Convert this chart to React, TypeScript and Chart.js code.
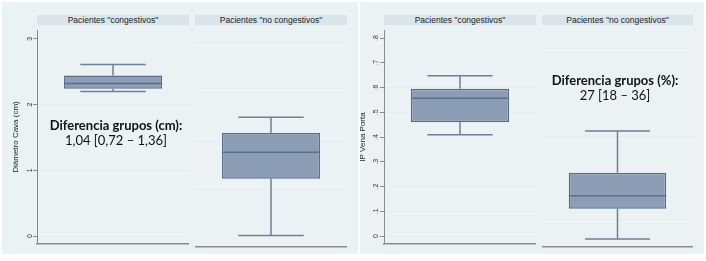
import React, { useEffect, useRef } from "react";
import { Chart, registerables } from "chart.js";

Chart.register(...registerables);

// ---- data ----
const groups = ['Pacientes "congestivos"', 'Pacientes "no congestivos"'];

// Diámetro Cava (cm): [congestivos, no congestivos]
const cavaMin = [2.2, 0.05];
const cavaQ1 = [2.24, 0.88];
const cavaMedian = [2.32, 1.27];
const cavaQ3 = [2.44, 1.55];
const cavaMax = [2.61, 1.78];
const cavaTicks = [0, 1, 2, 3];
const cavaTickLabels = ["0", "1", "2", "3"];
const cavaGridNoCong = [0.72, 1.43, 2.15, 2.87];
const cavaTitle = "Diámetro Cava (cm)";
const cavaNote = ["Diferencia grupos (cm):", "1,04 [0,72 – 1,36]"];

// IP Vena Porta: [congestivos, no congestivos]
const portaMin = [0.41, 0.0];
const portaQ1 = [0.46, 0.118];
const portaMedian = [0.557, 0.168];
const portaQ3 = [0.595, 0.258];
const portaMax = [0.648, 0.42];
const portaTicks = [0, 0.1, 0.2, 0.3, 0.4, 0.5, 0.6, 0.7, 0.8];
const portaTickLabels = ["0", ".1", ".2", ".3", ".4", ".5", ".6", ".7", ".8"];
const portaGridNoCong = [0.074, 0.4, 0.724];
const portaTitle = "IP Vena Porta";
const portaNote = ["Diferencia grupos (%):", "27 [18 – 36]"];

// ---- styles ----
const BG = "#EAF2F3";
const STRIP = "#D9E5EA";
const BOX_FILL = "#8C9EB6";
const BOX_LINE = "#5A6E8C";
const WHISKER = "#6D809A";
const AXIS = "#8A8A8A";
const GRID = "#E6EEF1";
const FONT = "'Liberation Sans', Arial, sans-serif";

const boxPlugin = {
  id: "boxWhiskers",
  beforeDatasetsDraw(chart: any, _args: any, opts: any) {
    const bar = chart.getDatasetMeta(0).data[0];
    const y = chart.scales.y;
    const ctx = chart.ctx;
    const cap = chart.chartArea.width * opts.capRatio;
    const x = bar.x;
    ctx.save();
    ctx.strokeStyle = WHISKER;
    ctx.lineWidth = 1.5;
    ctx.beginPath();
    const pMax = y.getPixelForValue(opts.max);
    const pMin = y.getPixelForValue(opts.min);
    ctx.moveTo(x, y.getPixelForValue(opts.q3));
    ctx.lineTo(x, pMax);
    ctx.moveTo(x, y.getPixelForValue(opts.q1));
    ctx.lineTo(x, pMin);
    ctx.moveTo(x - cap / 2, pMax);
    ctx.lineTo(x + cap / 2, pMax);
    ctx.moveTo(x - cap / 2, pMin);
    ctx.lineTo(x + cap / 2, pMin);
    ctx.stroke();
    ctx.restore();
  },
  afterDatasetsDraw(chart: any, _args: any, opts: any) {
    const bar = chart.getDatasetMeta(0).data[0];
    const y = chart.scales.y;
    const ctx = chart.ctx;
    const pMed = y.getPixelForValue(opts.median);
    ctx.save();
    ctx.strokeStyle = BOX_LINE;
    ctx.lineWidth = 1.5;
    ctx.beginPath();
    ctx.moveTo(bar.x - bar.width / 2, pMed);
    ctx.lineTo(bar.x + bar.width / 2, pMed);
    ctx.stroke();
    ctx.restore();
  },
};

type PanelProps = {
  left: number;
  top: number;
  width: number;
  height: number;
  axisWidth: number;
  showAxis: boolean;
  yMin: number;
  yMax: number;
  label: string;
  min: number;
  q1: number;
  median: number;
  q3: number;
  max: number;
  gridValues: number[];
  tickLabels: string[];
  title: string;
};

function Panel(p: PanelProps) {
  const ref = useRef<HTMLCanvasElement>(null);
  useEffect(() => {
    if (!ref.current) return;
    const chart = new Chart(ref.current, {
      type: "bar",
      data: {
        labels: [p.label],
        datasets: [
          {
            data: [[p.q1, p.q3]] as any,
            backgroundColor: BOX_FILL,
            borderColor: BOX_LINE,
            borderWidth: 1.5,
            borderSkipped: false,
            barPercentage: 0.645,
            categoryPercentage: 1,
          },
        ],
      },
      options: {
        animation: false,
        responsive: false,
        maintainAspectRatio: false,
        events: [],
        layout: { padding: { top: 0, bottom: 2, left: 0, right: 0 } },
        plugins: {
          legend: { display: false },
          tooltip: { enabled: false },
          boxWhiskers: {
            min: p.min,
            q1: p.q1,
            median: p.median,
            q3: p.q3,
            max: p.max,
            capRatio: 0.43,
          },
        } as any,
        scales: {
          x: {
            display: true,
            grid: { display: false, drawTicks: false },
            ticks: { display: false },
            border: { display: true, color: AXIS, width: 1.5 },
            afterFit: (s: any) => {
              s.height = 0;
            },
          },
          y: {
            min: p.yMin,
            max: p.yMax,
            position: "left",
            afterFit: (s: any) => {
              s.width = p.axisWidth;
            },
            afterBuildTicks: (s: any) => {
              s.ticks = p.gridValues.map((v) => ({ value: v }));
            },
            ticks: {
              display: p.showAxis,
              minRotation: 90,
              maxRotation: 90,
              crossAlign: "center",
              padding: 1,
              color: "#333",
              font: { family: FONT, size: 7 },
              callback: (_v: any, i: number) => p.tickLabels[i] ?? "",
            },
            grid: {
              color: GRID,
              tickColor: AXIS,
              tickLength: 4,
              drawTicks: p.showAxis,
            },
            border: { display: p.showAxis, color: AXIS, width: 1 },
            title: {
              display: p.showAxis,
              text: p.title,
              color: "#222",
              font: { family: FONT, size: 8 },
              padding: { top: 11, bottom: 0 },
            },
          } as any,
        },
      },
      plugins: [boxPlugin],
    });
    return () => chart.destroy();
  }, []);
  return (
    <canvas
      ref={ref}
      width={p.width}
      height={p.height}
      style={{ position: "absolute", left: p.left, top: p.top, width: p.width, height: p.height }}
    />
  );
}

function Strip({ left, width, text }: { left: number; width: number; text: string }) {
  return (
    <div
      style={{
        position: "absolute",
        left,
        top: 15,
        width,
        height: 10,
        background: STRIP,
        font: `8.5px ${FONT}`,
        lineHeight: "10px",
        textAlign: "center",
        color: "#222",
        whiteSpace: "nowrap",
      }}
    >
      {text}
    </div>
  );
}

function Note({ cx, top, lines }: { cx: number; top: number; lines: string[] }) {
  return (
    <div
      style={{
        position: "absolute",
        left: cx - 90,
        top,
        width: 180,
        textAlign: "center",
        fontFamily: "Lato, 'Open Sans', sans-serif",
        fontSize: 13,
        lineHeight: "15px",
        color: "#111",
        whiteSpace: "nowrap",
      }}
    >
      <div style={{ fontWeight: 700 }}>{lines[0]}</div>
      <div>{lines[1]}</div>
    </div>
  );
}

export default function App() {
  const panelTop = 25;
  const panelH = 224;
  const cavaRange = [-0.117, 3.13];
  const portaRange = [-0.031, 0.832];
  return (
    <div
      style={{
        position: "fixed",
        left: 0,
        top: 0,
        width: 706,
        height: 261,
        background: "#fff",
        overflow: "hidden",
      }}
    >
      <div style={{ position: "absolute", left: 2, top: 2, width: 356, height: 252, background: BG }} />
      <div style={{ position: "absolute", left: 360, top: 2, width: 344, height: 252, background: BG }} />

      <Strip left={37} width={152} text={groups[0]} />
      <Strip left={195} width={152} text={groups[1]} />
      <Strip left={384} width={152} text={groups[0]} />
      <Strip left={542} width={151} text={groups[1]} />

      <Panel
        left={0}
        top={panelTop}
        width={189}
        height={panelH}
        axisWidth={37}
        showAxis={true}
        yMin={cavaRange[0]}
        yMax={cavaRange[1]}
        label={groups[0]}
        min={cavaMin[0]}
        q1={cavaQ1[0]}
        median={cavaMedian[0]}
        q3={cavaQ3[0]}
        max={cavaMax[0]}
        gridValues={cavaTicks}
        tickLabels={cavaTickLabels}
        title={cavaTitle}
      />
      <Panel
        left={195}
        top={panelTop}
        width={152}
        height={panelH}
        axisWidth={0}
        showAxis={false}
        yMin={cavaRange[0]}
        yMax={cavaRange[1]}
        label={groups[1]}
        min={cavaMin[1]}
        q1={cavaQ1[1]}
        median={cavaMedian[1]}
        q3={cavaQ3[1]}
        max={cavaMax[1]}
        gridValues={cavaGridNoCong}
        tickLabels={[]}
        title=""
      />
      <Panel
        left={347}
        top={panelTop}
        width={189}
        height={panelH}
        axisWidth={37}
        showAxis={true}
        yMin={portaRange[0]}
        yMax={portaRange[1]}
        label={groups[0]}
        min={portaMin[0]}
        q1={portaQ1[0]}
        median={portaMedian[0]}
        q3={portaQ3[0]}
        max={portaMax[0]}
        gridValues={portaTicks}
        tickLabels={portaTickLabels}
        title={portaTitle}
      />
      <Panel
        left={542}
        top={panelTop}
        width={151}
        height={panelH}
        axisWidth={0}
        showAxis={false}
        yMin={portaRange[0]}
        yMax={portaRange[1]}
        label={groups[1]}
        min={portaMin[1]}
        q1={portaQ1[1]}
        median={portaMedian[1]}
        q3={portaQ3[1]}
        max={portaMax[1]}
        gridValues={portaGridNoCong}
        tickLabels={[]}
        title=""
      />

      <Note cx={116} top={118} lines={cavaNote} />
      <Note cx={615} top={73} lines={portaNote} />
    </div>
  );
}
